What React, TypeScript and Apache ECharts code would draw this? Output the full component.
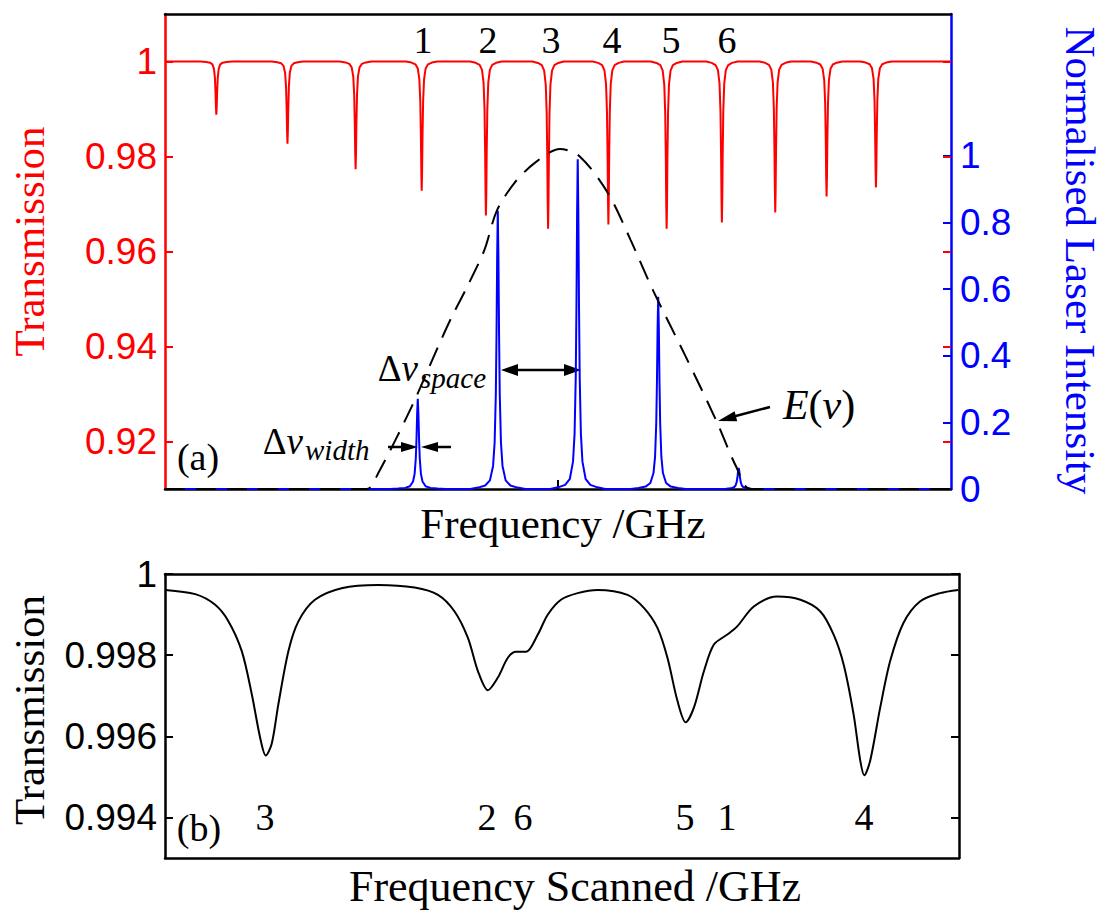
import React, { useEffect, useRef } from "react";
import * as echarts from "echarts";

// ---------------- data ----------------
const FREQ_MIN = -50;
const FREQ_MAX = 50;

// panel (a): absorption dips of the comb (Transmission, left axis)
const dipCentres = [-43.47, -34.42, -25.75, -17.34, -9.17, -1.26, 6.41, 13.82, 20.85, 27.64, 34.17, 40.45];
const dipMinima = [0.9888, 0.9827, 0.9773, 0.9728, 0.9676, 0.9648, 0.9657, 0.9648, 0.9661, 0.9682, 0.9716, 0.9735];
// line shape of one dip (offset, fraction of depth)
const dipShapeOffsets = [-2.0, -1.3, -0.8, -0.5, -0.3, -0.18, -0.1, -0.05, 0, 0.05, 0.1, 0.18, 0.3, 0.5, 0.8, 1.3, 2.0];
const dipShapeFractions = [0, 0.0085, 0.022, 0.054, 0.138, 0.308, 0.59, 0.852, 1, 0.852, 0.59, 0.308, 0.138, 0.054, 0.022, 0.0085, 0];

// panel (a): laser modes (Normalised Laser Intensity, right axis)
const modeCentres = [-17.84, -7.66, 2.51, 12.75, 22.99];
const modePeaks = [0.271, 0.835, 0.99, 0.577, 0.063];
const modeShapeOffsets = [-3.5, -2.5, -1.6, -1.0, -0.6, -0.4, -0.25, -0.16, -0.08, 0, 0.08, 0.16, 0.25, 0.4, 0.6, 1.0, 1.6, 2.5, 3.5];
const modeShapeFractions = [0, 0.005, 0.0125, 0.031, 0.083, 0.168, 0.341, 0.559, 0.835, 1, 0.835, 0.559, 0.341, 0.168, 0.083, 0.031, 0.0125, 0.005, 0];

// panel (a): envelope E(nu)
const envelopeFreq = [-50, -24.37, -22.86, -18.52, -15.45, -13.57, -11.56, -9.36, -7.79, -5.53, -2.95, 0.25, 2.83, 6.34, 9.23, 12.06, 16.28, 20.1, 22.69, 24.5, 50];
const envelopeValue = [0, 0, 0.048, 0.252, 0.417, 0.514, 0.607, 0.718, 0.835, 0.919, 0.979, 1.021, 0.997, 0.889, 0.748, 0.598, 0.396, 0.207, 0.066, 0, 0];

// panel (b): scanned transmission
const scanFreq = [-49.96, -46.19, -43.68, -42.0, -40.33, -39.07, -38.03, -37.31, -36.56, -35.72, -34.46, -33.2, -31.12, -27.76, -23.15, -18.56, -15.62, -13.53, -11.85, -10.59, -9.33, -8.08, -6.82, -5.78, -4.52, -3.05, -1.8, -0.13, 1.97, 4.48, 8.25, 10.34, 12.02, 13.28, 14.54, 15.58, 16.62, 17.88, 19.13, 20.82, 22.07, 24.16, 27.1, 30.03, 32.54, 34.21, 35.47, 36.72, 37.56, 38.07, 38.82, 40.08, 41.33, 43.0, 45.08, 47.61, 49.91];
const scanTrans = [0.999608, 0.999503, 0.999241, 0.998832, 0.998098, 0.997038, 0.995978, 0.995527, 0.995814, 0.996793, 0.998098, 0.998832, 0.999364, 0.99965, 0.999731, 0.999665, 0.999486, 0.999077, 0.998426, 0.997608, 0.997136, 0.997447, 0.997936, 0.998083, 0.998083, 0.998507, 0.998996, 0.999364, 0.999528, 0.999608, 0.999486, 0.99916, 0.998671, 0.997936, 0.996874, 0.996345, 0.996712, 0.997608, 0.998262, 0.998507, 0.99871, 0.9992, 0.999444, 0.999364, 0.999077, 0.998507, 0.997772, 0.996548, 0.995405, 0.995038, 0.995405, 0.996712, 0.997853, 0.998793, 0.999322, 0.999528, 0.999608];

// tick labels
const transTicksA = [0.92, 0.94, 0.96, 0.98, 1];
const intensityTicks = [0, 0.2, 0.4, 0.6, 0.8, 1];
const transTicksB = [0.994, 0.996, 0.998, 1];
const freqTicksA = [0];

// annotations
const topModeLabels = ["1", "2", "3", "4", "5", "6"];
const scanLabels = ["3", "2", "6", "5", "1", "4"];

// ---------------- helpers ----------------
const RED = "#ff0000";
const BLUE = "#0000ff";
const SERIF = "'Liberation Serif', 'Times New Roman', serif";
const SANS = "'Liberation Sans', Arial, Helvetica, sans-serif";

function buildDips(): [number, number][] {
  const pts: [number, number][] = [[FREQ_MIN, 1]];
  dipCentres.forEach((c, i) => {
    const depth = 1 - dipMinima[i];
    dipShapeOffsets.forEach((o, j) => pts.push([c + o, 1 - depth * dipShapeFractions[j]]));
  });
  pts.push([FREQ_MAX, 1]);
  return pts;
}

function buildModes(): [number, number][] {
  const pts: [number, number][] = [[FREQ_MIN, 0]];
  modeCentres.forEach((c, i) => {
    modeShapeOffsets.forEach((o, j) => pts.push([c + o, modePeaks[i] * modeShapeFractions[j]]));
  });
  pts.push([FREQ_MAX, 0]);
  return pts;
}

const fmt = (v: number) => String(parseFloat(Number(v).toFixed(4)));

export default function App() {
  const ref = useRef<HTMLDivElement>(null);
  useEffect(() => {
    if (!ref.current) return;
    const chart = echarts.init(ref.current, undefined, { renderer: "svg" });

    const boxLine = { onZero: false, lineStyle: { color: "#000", width: 2.5 } };

    const option: any = {
      animation: false,
      backgroundColor: "#ffffff",
      grid: [
        { left: 163, right: 151, top: 14, height: 475 },
        { left: 163, right: 151, top: 574, height: 284 },
      ],
      xAxis: [
        {
          gridIndex: 0, type: "value", min: FREQ_MIN, max: FREQ_MAX, position: "bottom",
          axisLine: boxLine,
          axisTick: { show: true, inside: true, length: 9, customValues: freqTicksA, lineStyle: { color: "#000", width: 2 } },
          axisLabel: { show: false }, splitLine: { show: false },
          name: "Frequency /GHz", nameLocation: "middle", nameGap: 13,
          nameTextStyle: { fontFamily: SERIF, fontSize: 43, color: "#000", padding: [0, 0, 0, 10] },
        },
        {
          gridIndex: 0, type: "value", min: FREQ_MIN, max: FREQ_MAX, position: "top",
          axisLine: boxLine, axisTick: { show: false }, axisLabel: { show: false }, splitLine: { show: false },
        },
        {
          gridIndex: 1, type: "value", min: FREQ_MIN, max: FREQ_MAX, position: "bottom",
          axisLine: boxLine, axisTick: { show: false }, axisLabel: { show: false }, splitLine: { show: false },
          name: "Frequency Scanned /GHz", nameLocation: "middle", nameGap: 6,
          nameTextStyle: { fontFamily: SERIF, fontSize: 44, color: "#000", padding: [0, 0, 0, 26] },
        },
        {
          gridIndex: 1, type: "value", min: FREQ_MIN, max: FREQ_MAX, position: "top",
          axisLine: boxLine, axisTick: { show: false }, axisLabel: { show: false }, splitLine: { show: false },
        },
      ],
      yAxis: [
        {
          gridIndex: 0, type: "value", min: 0.91, max: 1.01, position: "left",
          axisLine: { onZero: false, lineStyle: { color: RED, width: 2.5 } },
          axisTick: { show: true, inside: true, length: 8, customValues: transTicksA, lineStyle: { color: RED, width: 2 } },
          axisLabel: { show: true, customValues: transTicksA, formatter: fmt, color: RED, fontFamily: SANS, fontSize: 37, margin: 8 },
          splitLine: { show: false },
          name: "Transmission", nameLocation: "middle", nameGap: 114,
          nameTextStyle: { fontFamily: SERIF, fontSize: 43, color: RED, padding: [0, 0, 0, 20] },
        },
        {
          gridIndex: 0, type: "value", min: 0, max: 1.426, position: "right",
          axisLine: { onZero: false, lineStyle: { color: BLUE, width: 2.5 } },
          axisTick: { show: true, inside: true, length: 8, customValues: intensityTicks, lineStyle: { color: BLUE, width: 2 } },
          axisLabel: { show: true, customValues: intensityTicks, formatter: fmt, color: BLUE, fontFamily: SANS, fontSize: 37, margin: 9 },
          splitLine: { show: false },
          name: "Normalised Laser Intensity", nameLocation: "middle", nameGap: 108, nameRotate: -90,
          nameTextStyle: { fontFamily: SERIF, fontSize: 43, color: BLUE, padding: [0, 0, 0, 18] },
        },
        {
          gridIndex: 0, type: "value", min: 0.91, max: 1.01, position: "right",
          axisLine: { show: false, onZero: false },
          axisTick: { show: true, inside: true, length: 8, customValues: transTicksA, lineStyle: { color: RED, width: 2 } },
          axisLabel: { show: false }, splitLine: { show: false },
        },
        {
          gridIndex: 1, type: "value", min: 0.993, max: 1, position: "left",
          axisLine: boxLine,
          axisTick: { show: true, inside: true, length: 8, customValues: transTicksB, lineStyle: { color: "#000", width: 2 } },
          axisLabel: { show: true, customValues: transTicksB, formatter: fmt, color: "#000", fontFamily: SANS, fontSize: 37, margin: 8 },
          splitLine: { show: false },
          name: "Transmission", nameLocation: "middle", nameGap: 114,
          nameTextStyle: { fontFamily: SERIF, fontSize: 43, color: "#000", padding: [0, 0, 0, 12] },
        },
        {
          gridIndex: 1, type: "value", min: 0.993, max: 1, position: "right",
          axisLine: boxLine,
          axisTick: { show: true, inside: true, length: 8, customValues: transTicksB, lineStyle: { color: "#000", width: 2 } },
          axisLabel: { show: false }, splitLine: { show: false },
        },
      ],
      series: [
        {
          name: "Transmission (a)", type: "line", xAxisIndex: 0, yAxisIndex: 0, data: buildDips(),
          symbol: "none", silent: true, lineStyle: { color: RED, width: 2 }, itemStyle: { color: RED },
        },
        {
          name: "Laser intensity", type: "line", xAxisIndex: 0, yAxisIndex: 1, data: buildModes(),
          symbol: "none", silent: true, lineStyle: { color: BLUE, width: 2 }, itemStyle: { color: BLUE },
        },
        {
          name: "E(nu)", type: "line", xAxisIndex: 0, yAxisIndex: 1,
          data: envelopeFreq.map((f, i) => [f, envelopeValue[i]]),
          symbol: "none", silent: true, smooth: 0.3,
          lineStyle: { color: "#000", width: 2, type: [20, 11] }, itemStyle: { color: "#000" },
        },
        {
          name: "Transmission (b)", type: "line", xAxisIndex: 2, yAxisIndex: 3,
          data: scanFreq.map((f, i) => [f, scanTrans[i]]),
          symbol: "none", silent: true, smooth: 0.3,
          lineStyle: { color: "#000", width: 2 }, itemStyle: { color: "#000" },
        },
      ],
      graphic: [],
    };

    const g: any[] = [];
    const topX = [423, 488, 551, 612, 671, 727];
    topModeLabels.forEach((t, i) =>
      g.push({ type: "text", x: topX[i], y: 40, style: { text: t, fontFamily: SERIF, fontSize: 38, fill: "#000", align: "center", verticalAlign: "middle" } })
    );
    const scanX = [265, 487, 523, 685, 727, 864];
    scanLabels.forEach((t, i) =>
      g.push({ type: "text", x: scanX[i], y: 817, style: { text: t, fontFamily: SERIF, fontSize: 38, fill: "#000", align: "center", verticalAlign: "middle" } })
    );
    g.push({ type: "text", x: 198, y: 457, style: { text: "(a)", fontFamily: SERIF, fontSize: 38, fill: "#000", align: "center", verticalAlign: "middle" } });
    g.push({ type: "text", x: 199, y: 828, style: { text: "(b)", fontFamily: SERIF, fontSize: 38, fill: "#000", align: "center", verticalAlign: "middle" } });

    const greek = {
      n: { fontFamily: SERIF, fontSize: 37, fill: "#000" },
      i: { fontFamily: SERIF, fontSize: 37, fontStyle: "italic", fill: "#000" },
    };
    // Δν_width
    g.push({ type: "text", x: 303, y: 441, style: { text: "{n|Δ}{i|ν}", rich: greek, align: "right", verticalAlign: "middle" } });
    g.push({ type: "text", x: 305, y: 450, style: { text: "width", fontFamily: SERIF, fontStyle: "italic", fontSize: 29, fill: "#000", align: "left", verticalAlign: "middle" } });
    // Δν_space
    g.push({ type: "text", x: 418, y: 368, style: { text: "{n|Δ}{i|ν}", rich: greek, align: "right", verticalAlign: "middle" } });
    g.push({ type: "text", x: 420, y: 378, style: { text: "space", fontFamily: SERIF, fontStyle: "italic", fontSize: 29, fill: "#000", align: "left", verticalAlign: "middle" } });
    // E(ν)
    g.push({
      type: "text", x: 819, y: 405,
      style: {
        text: "{i|E}{n|(}{i|ν}{n|)}", align: "center", verticalAlign: "middle",
        rich: { n: { fontFamily: SERIF, fontSize: 42, fill: "#000" }, i: { fontFamily: SERIF, fontSize: 42, fontStyle: "italic", fill: "#000" } },
      },
    });

    const arrowLine = { stroke: "#000", lineWidth: 2.5 };
    // Δν_width arrows
    g.push({ type: "line", shape: { x1: 388, y1: 447, x2: 405, y2: 447 }, style: arrowLine });
    g.push({ type: "polygon", shape: { points: [[418, 447], [401, 442], [401, 452]] }, style: { fill: "#000" } });
    g.push({ type: "line", shape: { x1: 437, y1: 447, x2: 451, y2: 447 }, style: arrowLine });
    g.push({ type: "polygon", shape: { points: [[421, 447], [438, 442], [438, 452]] }, style: { fill: "#000" } });
    // Δν_space double arrow
    g.push({ type: "line", shape: { x1: 512, y1: 370, x2: 570, y2: 370 }, style: arrowLine });
    g.push({ type: "polygon", shape: { points: [[501, 370], [518, 364], [518, 376]] }, style: { fill: "#000" } });
    g.push({ type: "polygon", shape: { points: [[581, 370], [564, 364], [564, 376]] }, style: { fill: "#000" } });
    // E(ν) arrow
    g.push({ type: "line", shape: { x1: 770, y1: 407, x2: 732, y2: 417 }, style: arrowLine });
    g.push({ type: "polygon", shape: { points: [[718, 421], [734.6, 411.3], [737.2, 421.2]] }, style: { fill: "#000" } });

    option.graphic = g;
    chart.setOption(option);
    return () => chart.dispose();
  }, []);

  return <div ref={ref} style={{ position: "fixed", left: 0, top: 0, width: 1110, height: 915, background: "#fff" }} />;
}
